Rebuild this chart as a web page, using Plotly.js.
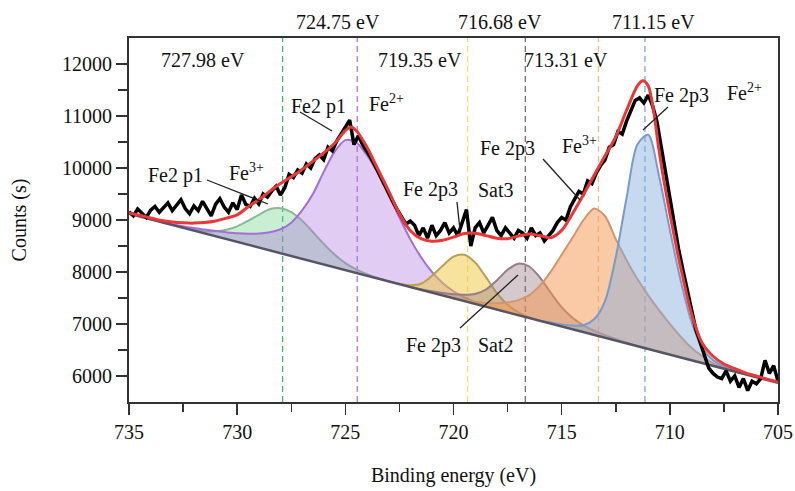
<!DOCTYPE html>
<html>
<head>
<meta charset="utf-8">
<script src="https://cdn.plot.ly/plotly-3.0.1.min.js"></script>
<style>html,body{margin:0;padding:0;background:#fff;}#chart{width:795px;height:491px;}</style>
</head>
<body>
<div id="chart"></div>
<script>
// ---------- DATA ----------
// Common energy grid for the fitted components (eV)
const energyGrid = [735,734.5,734,733.5,733,732.5,732,731.5,731,730.5,
  730,729.5,729,728.5,728,727.5,727,726.5,726,725.5,
  725,724.5,724,723.5,723,722.5,722,721.5,721,720.5,
  720,719.5,719,718.5,718,717.5,717,716.5,716,715.5,
  715,714.5,714,713.5,713,712.5,712,711.5,711,710.5,
  710,709.5,709,708.5,708,707.5,707,706.5,706,705.5,
  705];
// Linear background (counts) on the grid
const background = [9120,9066,9012,8958,8903,8849,8795,8741,8687,8633,
  8578,8524,8470,8416,8362,8308,8253,8199,8145,8091,
  8037,7983,7928,7874,7820,7766,7712,7658,7603,7549,
  7495,7441,7387,7333,7278,7224,7170,7116,7062,7008,
  6953,6899,6845,6791,6737,6683,6628,6574,6520,6466,
  6412,6358,6303,6249,6195,6141,6087,6033,5978,5924,
  5870];
// Component intensities above background (counts)
const fe2p1Fe3 = [0,0,0,0,3,8,20,45,95,180,300,460,630,790,865,845,735,570,395,245,135,68,30,12,4,
  0,0,0,0,0,0,0,0,0,0,0,0,0,0,0,0,0,0,0,0,0,0,0,0,0,0,0,0,0,0,0,0,0,0,0,0];
const fe2p1Fe2 = [0,0,0,5,15,30,50,75,100,130,165,210,270,350,460,640,930,1300,1780,2220,2500,2510,2320,2030,1660,1280,920,625,400,240,135,70,35,15,5,
  0,0,0,0,0,0,0,0,0,0,0,0,0,0,0,0,0,0,0,0,0,0,0,0,0,0];
const fe2p3Sat3 = [0,0,0,0,0,0,0,0,0,0,0,0,0,0,0,0,0,0,0,0,0,0,0,0,
  0,10,35,115,320,570,800,890,795,567,320,145,55,15,0,
  0,0,0,0,0,0,0,0,0,0,0,0,0,0,0,0,0,0,0,0,0,0];
const fe2p3Sat2 = [0,0,0,0,0,0,0,0,0,0,0,0,0,0,0,0,0,0,0,0,0,0,0,0,0,0,
  0,10,25,45,75,120,190,330,560,820,990,990,830,590,370,220,130,80,50,30,15,5,0,
  0,0,0,0,0,0,0,0,0,0,0,0];
const fe2p3Fe3 = [0,0,0,0,0,0,0,0,0,0,0,0,0,0,0,0,0,0,0,0,0,0,0,0,0,0,0,0,0,0,
  0,20,40,70,120,190,290,440,680,1000,1380,1760,2150,2430,2340,1950,1600,1290,1030,800,590,400,240,130,50,15,0,
  0,0,0,0];
const fe2p3Fe2 = [0,0,0,0,0,0,0,0,0,0,0,0,0,0,0,0,0,0,0,0,0,0,0,0,0,0,0,0,0,0,0,0,0,0,0,0,0,0,
  0,20,40,70,130,300,700,1600,2800,3880,4120,3380,2400,1480,740,290,110,45,20,8,0,
  0,0];

// Fitted envelope
const envelopeX = [735,734.5,734,733.5,733,732.5,732,731.5,731,730.5,730,729.5,729,728.5,728,727.5,727,726.5,726,725.5,
  725,724.75,724.5,724,723.5,723,722.5,722,721.5,721,720.5,720,719.5,719,718.5,718,717.5,717,716.5,716,
  715.5,715,714.5,714,713.5,713,712.5,712,711.5,711.25,711,710.75,710.5,710.25,710,709.5,709,708.5,708,707.5,
  707,706.5,706,705.5,705];
const envelopeY = [9135,9090,9040,8990,8960,8945,8940,8950,8980,9035,9100,9250,9390,9550,9700,9830,9970,10130,10290,10470,
  10720,10790,10720,10400,9980,9560,9120,8800,8640,8590,8610,8670,8740,8745,8700,8650,8640,8690,8730,8700,
  8660,8800,9120,9480,9860,10230,10600,11110,11580,11680,11580,11100,10340,9700,9130,8090,7200,6630,6380,6230,
  6140,6060,6000,5940,5885];

// Measured spectrum
const measuredX = [735.0,734.8,734.6,734.4,734.2,734.0,733.8,733.6,733.4,733.2,
  733.0,732.8,732.6,732.4,732.2,732.0,731.8,731.6,731.4,731.2,
  731.0,730.8,730.6,730.4,730.2,730.0,729.8,729.6,729.4,729.2,
  729.0,728.8,728.6,728.4,728.2,728.0,727.8,727.6,727.4,727.2,
  727.0,726.8,726.6,726.4,726.2,726.0,725.8,725.6,725.4,725.2,
  725.0,724.8,724.6,724.4,724.2,724.0,723.8,723.6,723.4,723.2,
  723.0,722.8,722.6,722.4,722.2,722.0,721.8,721.6,721.4,721.2,
  721.0,720.8,720.6,720.4,720.2,720.0,719.8,719.6,719.4,719.2,
  719.0,718.8,718.6,718.4,718.2,718.0,717.8,717.6,717.4,717.2,
  717.0,716.8,716.6,716.4,716.2,716.0,715.8,715.6,715.4,715.2,
  715.0,714.8,714.6,714.4,714.2,714.0,713.8,713.6,713.4,713.2,
  713.0,712.8,712.6,712.4,712.2,712.0,711.8,711.6,711.4,711.2,
  711.0,710.8,710.6,710.4,710.2,710.0,709.8,709.6,709.4,709.2,
  709.0,708.8,708.6,708.4,708.2,708.0,707.8,707.6,707.4,707.2,
  707.0,706.8,706.6,706.4,706.2,706.0,705.8,705.6,705.4,705.2,
  705.0];
const measuredY = [9160,9080,9210,9120,9050,9190,9260,9150,9230,9330,
  9180,9290,9390,9220,9120,9270,9180,9360,9210,9080,
  9300,9410,9250,9150,9330,9200,9480,9300,9260,9420,
  9310,9500,9440,9560,9650,9480,9620,9880,9820,9960,
  9900,10080,10000,10180,10250,10160,10400,10330,10520,10650,
  10780,10920,10450,10620,10450,10320,10180,10020,9850,9700,
  9500,9350,9200,9050,8920,8980,8900,8700,8850,8650,
  8900,8700,8800,8950,8750,8850,8700,8950,9200,8500,
  8850,8950,8750,8900,9050,8800,8700,8850,8750,8650,
  8800,8750,8650,8850,8700,8750,8600,8700,8800,8950,
  9050,9000,9250,9400,9550,9500,9750,9700,9900,10050,
  10150,10400,10450,10700,10650,10900,11100,11300,11350,11250,
  11400,11200,10900,10400,9900,9400,8950,8450,8050,7650,
  7250,6900,6650,6400,6150,6050,5980,5950,6100,5900,
  6000,5780,5950,5720,5900,5850,5950,6300,6050,6200,
  5900];

// Peak positions (eV) marked by dashed lines, and their labels
const peakPositions = [727.9, 724.45, 719.35, 716.68, 713.3, 711.15];
const peakLabels = ["727.98 eV", "724.75 eV", "719.35 eV", "716.68 eV", "713.31 eV", "711.15 eV"];

// ---------- STYLE ----------
const FONT = '"Liberation Serif", "DejaVu Serif", "Times New Roman", serif';
const components = [
  {net: fe2p1Fe3, fill: 'rgba(100,210,130,0.35)', line: 'rgb(140,185,150)'},
  {net: fe2p1Fe2, fill: 'rgba(170,110,220,0.35)', line: 'rgb(165,110,215)'},
  {net: fe2p3Sat3, fill: 'rgba(240,200,60,0.5)', line: 'rgb(185,160,85)'},
  {net: fe2p3Sat2, fill: 'rgba(150,120,130,0.4)', line: 'rgb(150,125,135)'},
  {net: fe2p3Fe3, fill: 'rgba(245,150,80,0.5)', line: 'rgb(210,150,110)'},
  {net: fe2p3Fe2, fill: 'rgba(130,170,220,0.45)', line: 'rgb(120,155,200)'}
];
const peakLineColors = ['rgb(80,170,120)','rgb(180,120,230)','rgb(250,215,120)','rgb(120,110,120)','rgb(250,190,150)','rgb(130,170,220)'];

const traces = [];
components.forEach(c => {
  let first = c.net.findIndex(v => v > 0);
  let last = c.net.length - 1 - [...c.net].reverse().findIndex(v => v > 0);
  const s = Math.max(0, first - 1), e = Math.min(c.net.length - 1, last + 1);
  const xs = energyGrid.slice(s, e + 1);
  const base = background.slice(s, e + 1);
  const tot = base.map((b, k) => b + c.net[s + k]);
  traces.push({x: xs, y: base, mode: 'lines', line: {width: 0, color: 'rgba(0,0,0,0)'}, hoverinfo: 'skip', showlegend: false});
  traces.push({x: xs, y: tot, mode: 'lines', fill: 'tonexty', fillcolor: c.fill,
    line: {color: c.line, width: 2, shape: 'spline', smoothing: 0.8}, showlegend: false});
});
// background line
traces.push({x: energyGrid, y: background, mode: 'lines', line: {color: 'rgb(85,85,100)', width: 2.5}, showlegend: false});
// measured
traces.push({x: measuredX, y: measuredY, mode: 'lines', line: {color: '#000', width: 3.5}, showlegend: false});
// envelope
traces.push({x: envelopeX, y: envelopeY, mode: 'lines', line: {color: 'rgb(235,55,55)', width: 3, shape: 'spline', smoothing: 0.8}, showlegend: false});

// ---------- LAYOUT ----------
const L = 129, R = 778, T = 38, B = 402;
const px = (x) => (x - L) / (R - L);
const py = (y) => (B - y) / (B - T);

const shapes = peakPositions.map((p, i) => ({
  type: 'line', xref: 'x', yref: 'paper', x0: p, x1: p, y0: 0, y1: 1,
  line: {color: peakLineColors[i], width: 1.3, dash: '6px,4px'}, layer: 'below'
}));
const pointers = [[207,180,268,204],[300,112,332,131],[457,202,460,230],[543,159,580,200],[668,107,643,130],[460,328,518,275]];
pointers.forEach(p => shapes.push({type: 'line', xref: 'paper', yref: 'paper',
  x0: px(p[0]), y0: py(p[1]), x1: px(p[2]), y1: py(p[3]), line: {color: '#222', width: 1.3}}));

const labelPos = [[203,60],[338,22],[420,60],[500,22],[566,60],[653,22]];
const annotations = peakLabels.map((t, i) => ({text: t, xref: 'paper', yref: 'paper',
  x: px(labelPos[i][0]), y: py(labelPos[i][1]), showarrow: false, xanchor: 'center', yanchor: 'middle',
  font: {family: FONT, size: 20, color: '#111'}}));
const compLabels = [
  ['Fe2 p1', 175, 175, 'center'], ['Fe<sup>3+</sup>', 227, 172, 'left'],
  ['Fe2 p1', 318, 106, 'center'], ['Fe<sup>2+</sup>', 367, 103, 'left'],
  ['Fe 2p3', 430, 190, 'center'], ['Sat3', 496, 190, 'center'],
  ['Fe 2p3', 507, 148, 'center'], ['Fe<sup>3+</sup>', 560, 145, 'left'],
  ['Fe 2p3', 681, 95, 'center'], ['Fe<sup>2+</sup>', 725, 92, 'left'],
  ['Fe 2p3', 433, 345, 'center'], ['Sat2', 496, 345, 'center']
];
compLabels.forEach(c => annotations.push({text: c[0], xref: 'paper', yref: 'paper',
  x: px(c[1]), y: py(c[2]), showarrow: false, xanchor: c[3], yanchor: 'middle',
  font: {family: FONT, size: 20, color: '#111'}}));

const layout = {
  width: 795, height: 491,
  margin: {l: L, r: 795 - R, t: T, b: 491 - B},
  paper_bgcolor: '#fff', plot_bgcolor: '#fff',
  font: {family: FONT, size: 20, color: '#111'},
  showlegend: false,
  xaxis: {
    range: [735, 705], tickvals: [735,730,725,720,715,710,705],
    ticks: 'outside', ticklen: 11, tickwidth: 1.5, tickcolor: '#333',
    minor: {tickvals: [732.5,727.5,722.5,717.5,712.5,707.5], ticks: 'outside', ticklen: 8, tickwidth: 1.5, tickcolor: '#333'},
    showline: true, linecolor: '#333', linewidth: 2, mirror: true,
    showgrid: false, zeroline: false,
    tickfont: {family: FONT, size: 20, color: '#111'},
    title: {text: 'Binding energy (eV)', font: {family: FONT, size: 20, color: '#111'}, standoff: 26}
  },
  yaxis: {
    range: [5500, 12500], tickvals: [6000,7000,8000,9000,10000,11000,12000], tickformat: 'd',
    ticks: 'outside', ticklen: 11, tickwidth: 1.5, tickcolor: '#333',
    minor: {tickvals: [6500,7500,8500,9500,10500,11500], ticks: 'outside', ticklen: 9, tickwidth: 1.5, tickcolor: '#333'},
    showline: true, linecolor: '#333', linewidth: 2, mirror: true,
    showgrid: false, zeroline: false,
    tickfont: {family: FONT, size: 20, color: '#111'},
    title: {text: 'Counts (s)', font: {family: FONT, size: 20, color: '#111'}, standoff: 30}
  },
  shapes: shapes,
  annotations: annotations
};

Plotly.newPlot('chart', traces, layout, {staticPlot: true, displayModeBar: false});
</script>
</body>
</html>
